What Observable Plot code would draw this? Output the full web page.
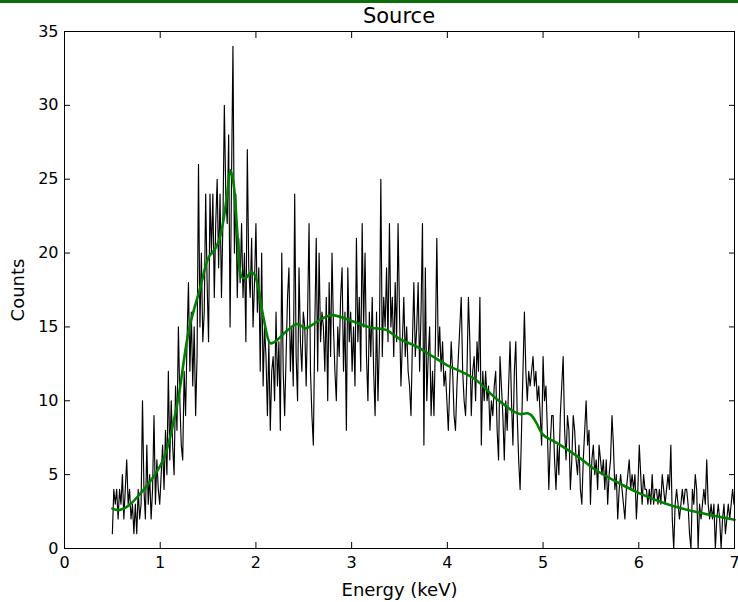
<!DOCTYPE html>
<html><head><meta charset="utf-8">
<script src="https://cdn.jsdelivr.net/npm/d3@7"></script>
<script src="https://cdn.jsdelivr.net/npm/@observablehq/plot@0.6"></script>
<style>
body{margin:0;background:#fff;}
#wrap{position:relative;width:738px;height:602px;overflow:hidden;}
#bar{position:absolute;left:0;top:0;width:738px;height:3px;background:#0b6e0b;z-index:2;}
#title{position:absolute;left:64px;width:670px;top:4px;text-align:center;font-family:"DejaVu Sans";font-size:21px;line-height:24px;z-index:2;}
#chart{position:absolute;left:0;top:0;}
#chart g[aria-label$="axis label"] text{font-size:18px;}
</style></head>
<body><div id="wrap"><div id="bar"></div><div id="title">Source</div><div id="chart"></div></div>
<script>
// Channel energies (keV)
const energy = [
0.5,0.515,0.53,0.545,0.56,0.575,0.59,0.605,0.62,0.635,0.65,0.665,0.68,0.695,0.71,0.725,0.74,0.755,0.77,0.785,
0.8,0.815,0.83,0.845,0.86,0.875,0.89,0.905,0.92,0.935,0.95,0.965,0.98,0.995,1.01,1.025,1.04,1.055,1.07,1.085,
1.1,1.115,1.13,1.145,1.16,1.175,1.19,1.205,1.22,1.235,1.25,1.265,1.28,1.295,1.31,1.325,1.34,1.355,1.37,1.385,
1.4,1.415,1.43,1.445,1.46,1.475,1.49,1.505,1.52,1.535,1.55,1.565,1.58,1.595,1.61,1.625,1.64,1.655,1.67,1.685,
1.7,1.715,1.73,1.745,1.76,1.775,1.79,1.805,1.82,1.835,1.85,1.865,1.88,1.895,1.91,1.925,1.94,1.955,1.97,1.985,
2,2.015,2.03,2.045,2.06,2.075,2.09,2.105,2.12,2.135,2.15,2.165,2.18,2.195,2.21,2.225,2.24,2.255,2.27,2.285,
2.3,2.315,2.33,2.345,2.36,2.375,2.39,2.405,2.42,2.435,2.45,2.465,2.48,2.495,2.51,2.525,2.54,2.555,2.57,2.585,
2.6,2.615,2.63,2.645,2.66,2.675,2.69,2.705,2.72,2.735,2.75,2.765,2.78,2.795,2.81,2.825,2.84,2.855,2.87,2.885,
2.9,2.915,2.93,2.945,2.96,2.975,2.99,3.005,3.02,3.035,3.05,3.065,3.08,3.095,3.11,3.125,3.14,3.155,3.17,3.185,
3.2,3.215,3.23,3.245,3.26,3.275,3.29,3.305,3.32,3.335,3.35,3.365,3.38,3.395,3.41,3.425,3.44,3.455,3.47,3.485,
3.5,3.515,3.53,3.545,3.56,3.575,3.59,3.605,3.62,3.635,3.65,3.665,3.68,3.695,3.71,3.725,3.74,3.755,3.77,3.785,
3.8,3.815,3.83,3.845,3.86,3.875,3.89,3.905,3.92,3.935,3.95,3.965,3.98,3.995,4.01,4.025,4.04,4.055,4.07,4.085,
4.1,4.115,4.13,4.145,4.16,4.175,4.19,4.205,4.22,4.235,4.25,4.265,4.28,4.295,4.31,4.325,4.34,4.355,4.37,4.385,
4.4,4.415,4.43,4.445,4.46,4.475,4.49,4.505,4.52,4.535,4.55,4.565,4.58,4.595,4.61,4.625,4.64,4.655,4.67,4.685,
4.7,4.715,4.73,4.745,4.76,4.775,4.79,4.805,4.82,4.835,4.85,4.865,4.88,4.895,4.91,4.925,4.94,4.955,4.97,4.985,
5,5.015,5.03,5.045,5.06,5.075,5.09,5.105,5.12,5.135,5.15,5.165,5.18,5.195,5.21,5.225,5.24,5.255,5.27,5.285,
5.3,5.315,5.33,5.345,5.36,5.375,5.39,5.405,5.42,5.435,5.45,5.465,5.48,5.495,5.51,5.525,5.54,5.555,5.57,5.585,
5.6,5.615,5.63,5.645,5.66,5.675,5.69,5.705,5.72,5.735,5.75,5.765,5.78,5.795,5.81,5.825,5.84,5.855,5.87,5.885,
5.9,5.915,5.93,5.945,5.96,5.975,5.99,6.005,6.02,6.035,6.05,6.065,6.08,6.095,6.11,6.125,6.14,6.155,6.17,6.185,
6.2,6.215,6.23,6.245,6.26,6.275,6.29,6.305,6.32,6.335,6.35,6.365,6.38,6.395,6.41,6.425,6.44,6.455,6.47,6.485,
6.5,6.515,6.53,6.545,6.56,6.575,6.59,6.605,6.62,6.635,6.65,6.665,6.68,6.695,6.71,6.725,6.74,6.755,6.77,6.785,
6.8,6.815,6.83,6.845,6.86,6.875,6.89,6.905,6.92,6.935,6.95,6.965,6.98,6.995
];
// Observed counts per channel
const counts = [
1,4,3,4,2,4,3,5,2,4,6,3,4,2,3,1,3,1,4,2,
3,10,4,2,7,3,5,2,4,9,3,6,4,3,5,7,4,8,5,12,
6,10,7,5,11,8,15,10,7,6,12,9,14,18,12,16,11,15,9,13,
26,15,20,14,16,24,18,14,24,20,24,17,22,25,19,24,17,22,30,24,
22,28,15,25,34,20,24,17,21,18,22,17,20,14,27,19,17,21,15,18,
22,16,19,12,20,11,15,13,9,14,8,12,13,10,16,11,14,8,20,12,
9,13,17,19,12,15,11,24,13,10,19,14,12,16,15,11,16,22,12,9,
7,15,21,12,20,14,16,15,12,17,10,18,13,20,15,12,10,15,13,17,
19,12,16,8,19,14,16,12,15,11,21,14,17,12,22,15,20,13,10,16,
13,17,12,9,16,10,14,25,13,17,15,19,14,22,15,17,13,18,14,22,
16,11,14,17,13,15,12,11,9,14,18,13,15,18,12,16,22,7,19,10,
13,15,9,12,9,14,21,13,15,12,14,11,12,10,8,11,14,12,9,8,
11,13,15,17,12,10,9,12,17,14,9,12,13,10,14,12,17,7,12,10,
12,10,11,8,10,9,11,12,8,6,13,11,9,6,10,8,11,14,10,7,
12,14,9,6,4,8,12,16,12,10,12,11,12,13,11,12,10,11,9,7,
13,10,11,8,4,7,9,9,6,4,7,5,9,11,13,8,6,9,8,4,
6,9,8,6,5,7,4,3,6,8,10,7,8,3,6,7,5,6,4,7,
6,5,6,4,6,3,5,6,9,7,4,5,2,4,5,4,3,2,4,5,
6,4,5,4,5,2,4,7,5,3,5,4,4,3,4,3,5,3,4,4,
3,4,3,5,4,3,4,5,4,7,2,0,3,4,3,2,3,4,3,4,
4,3,1,0,4,3,5,4,0,3,2,3,4,3,6,3,2,3,2,3,
0,2,3,2,0,2,3,1,2,3,2,3,4,3
];
// Fitted model curve (keV, counts)
const modelEnergy = [0.5,0.57,0.67,0.79,0.88,1.0,1.05,1.12,1.19,1.3,1.42,1.505,1.575,1.62,1.66,1.7,1.735,1.77,1.81,1.85,1.89,1.95,1.98,2.02,2.08,2.15,2.2,2.3,2.43,2.52,2.58,2.7,2.8,3.0,3.2,3.36,3.5,3.7,3.86,4.0,4.2,4.32,4.49,4.6,4.7,4.76,4.84,4.88,4.93,5.0,5.1,5.18,5.39,5.53,5.8,6.02,6.3,6.58,6.8,7.0];
const modelCounts = [2.7,2.6,2.9,3.7,4.4,5.6,6.3,8.0,10.2,14.8,17.7,19.7,20.3,21.0,22.2,24.0,25.6,24.5,21.0,18.4,18.3,18.7,18.6,17.8,15.6,13.9,14.0,14.6,15.2,14.9,15.1,15.6,15.8,15.4,14.95,14.8,14.2,13.6,12.95,12.4,11.8,11.3,10.25,9.7,9.25,9.1,9.15,9.0,8.5,7.7,7.3,7.0,6.1,5.4,4.4,3.7,3.0,2.5,2.2,1.95];
const xTicks = [0,1,2,3,4,5,6,7];
const yTicks = [0,5,10,15,20,25,30,35];

const spectrum = energy.map((e, i) => ({e, c: counts[i]}));
const model = modelEnergy.map((e, i) => ({e, c: modelCounts[i]}));

const chart = Plot.plot({
  width: 738, height: 602,
  marginLeft: 64, marginRight: 4, marginTop: 31, marginBottom: 54,
  style: {fontFamily: "DejaVu Sans", fontSize: "16px", background: "transparent", color: "black"},
  x: {domain: [0, 7]},
  y: {domain: [0, 35]},
  marks: [
    Plot.axisX(xTicks, {anchor: "bottom", tickSize: -6, tickPadding: 14, label: "Energy (keV)", labelAnchor: "center", labelArrow: "none", labelOffset: 47}),
    Plot.axisX(xTicks, {anchor: "top", tickSize: -6, tickFormat: () => "", label: null}),
    Plot.axisY(yTicks, {anchor: "left", tickSize: -6, tickPadding: 12, label: "Counts", labelAnchor: "center", labelArrow: "none", labelOffset: 53}),
    Plot.axisY(yTicks, {anchor: "right", tickSize: -6, tickFormat: () => "", label: null}),
    Plot.line(spectrum, {x: "e", y: "c", stroke: "black", strokeWidth: 1.15}),
    Plot.line(model, {x: "e", y: "c", stroke: "#008000", strokeWidth: 2.6, curve: "catmull-rom"}),
    Plot.frame({stroke: "black", strokeWidth: 1})
  ]
});
document.getElementById("chart").appendChild(chart);
</script>
</body></html>
